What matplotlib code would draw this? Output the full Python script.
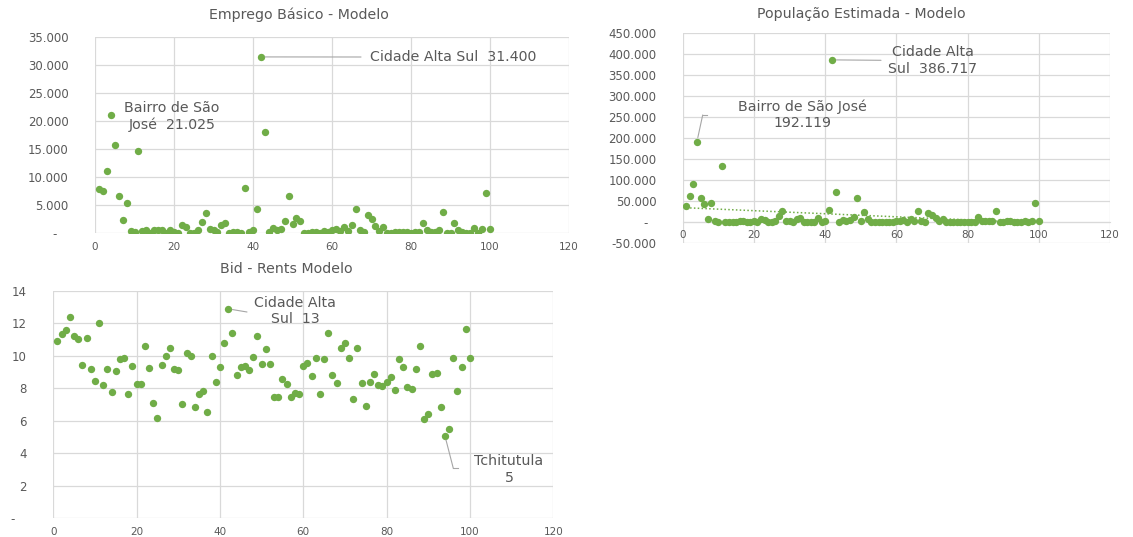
import numpy as np
import matplotlib
matplotlib.use("Agg")
import matplotlib.pyplot as plt
from matplotlib.ticker import MultipleLocator, FuncFormatter
from matplotlib.lines import Line2D

# --- data (zone index 1..100) ---
zonas = np.arange(1, 101)

emprego = [7900, 7600, 11100, 21025, 15700, 6700, 2400, 5400, 400, 200,
           14600, 400, 500, 100, 600, 500, 600, 100, 500, 200,
           100, 1400, 1100, 100, 100, 500, 2100, 3600, 800, 500,
           200, 1500, 1900, 100, 200, 300, 100, 8100, 200, 500,
           4400, 31400, 18100, 200, 1000, 500, 800, 2200, 6700, 1600,
           2700, 2200, 100, 100, 300, 200, 100, 400, 200, 600,
           700, 400, 1200, 400, 1400, 4300, 500, 300, 3300, 2500,
           1300, 400, 1200, 100, 100, 200, 200, 300, 300, 100,
           300, 200, 1900, 500, 200, 300, 600, 3800, 100, 100,
           1800, 600, 200, 100, 100, 900, 100, 700, 7100, 800]

populacao = [39000, 63000, 92000, 192119, 58000, 44000, 9000, 47000, 2000, 1000,
             133000, 1500, 1500, 1000, 1500, 2000, 2500, 1500, 1000, 2500,
             1500, 8000, 6000, 1000, 1000, 2000, 14000, 26000, 3000, 2000,
             1000, 8000, 10000, 1000, 1500, 1000, 1500, 10000, 1000, 3000,
             30000, 386717, 72000, 1000, 5000, 3000, 6000, 12000, 58000, 4000,
             25000, 8000, 1000, 1000, 1500, 1000, 1000, 1500, 1000, 3000,
             2000, 5000, 1500, 7000, 3000, 28000, 2000, 1000, 21000, 17000,
             10000, 3000, 8000, 1000, 1500, 1000, 1000, 1500, 1000, 1000,
             1500, 1000, 13000, 2000, 2500, 2000, 3000, 26000, 1000, 1500,
             2000, 3000, 1500, 1000, 1500, 4000, 1000, 2000, 46000, 4000]

bid_rents = [10.9, 11.33, 11.58, 12.4, 11.23, 11.03, 9.45, 11.1, 9.22, 8.44,
             12.05, 8.21, 9.18, 7.8, 9.06, 9.81, 9.9, 7.68, 9.38, 8.3,
             8.3, 10.6, 9.28, 7.1, 6.2, 9.42, 10.0, 10.47, 9.22, 9.14,
             7.04, 10.2, 9.98, 6.88, 7.68, 7.86, 6.53, 10.02, 8.42, 9.32,
             10.8, 12.9, 11.4, 8.83, 9.34, 9.36, 9.16, 9.94, 11.21, 9.53,
             10.41, 9.51, 7.5, 7.5, 8.6, 8.3, 7.47, 7.72, 7.66, 9.36,
             9.57, 8.75, 9.88, 7.66, 9.8, 11.44, 8.83, 8.34, 10.47, 10.82,
             9.86, 7.33, 10.47, 8.36, 6.92, 8.4, 8.87, 8.21, 8.13, 8.38,
             8.69, 7.93, 9.82, 9.3, 8.07, 7.97, 9.22, 10.64, 6.1, 6.45,
             8.91, 8.97, 6.88, 5.07, 5.48, 9.9, 7.84, 9.32, 11.68, 9.9]

W, H = 1133, 537
GREEN = "#70AD47"
TXT = "#595959"
GRID = "#d9d9d9"
LEAD = "#a6a6a6"

plt.rcParams["font.family"] = ["DejaVu Sans"]

fig = plt.figure(figsize=(W / 100, H / 100), dpi=100)


def box(l, t, r, b):
    return [l / W, 1 - b / H, (r - l) / W, (b - t) / H]


def fmt_factory(zero):
    def f(v, pos):
        if abs(v) < 1e-9:
            return zero
        return f"{v:,.0f}".replace(",", ".")
    return f


def style(ax, ystep, zero):
    ax.set_xlim(0, 120)
    ax.xaxis.set_major_locator(MultipleLocator(20))
    ax.yaxis.set_major_locator(MultipleLocator(ystep))
    ax.yaxis.set_major_formatter(FuncFormatter(fmt_factory(zero)))
    ax.grid(True, color=GRID, lw=0.9)
    ax.set_axisbelow(True)
    for s in ax.spines.values():
        s.set_visible(False)
    ax.tick_params(axis="y", length=0, pad=19, labelsize=8.5, labelcolor=TXT)
    ax.tick_params(axis="x", length=0, pad=6.5, labelsize=7.5, labelcolor=TXT)


def leader(ax, xd, yd, pts):
    # leader from data point through a list of image-pixel points
    x0, y0 = pts[0]
    ax.annotate("", xy=(xd, yd), xycoords="data",
                xytext=(x0, H - y0), textcoords="figure pixels",
                arrowprops=dict(arrowstyle="-", color=LEAD, lw=0.8,
                                shrinkA=0, shrinkB=3))
    for (xa, ya), (xb, yb) in zip(pts[:-1], pts[1:]):
        fig.add_artist(Line2D([xa / W, xb / W], [1 - ya / H, 1 - yb / H],
                              transform=fig.transFigure, color=LEAD, lw=0.8))


def label(text, x, y, ha="center"):
    fig.text(x / W, 1 - y / H, text, ha=ha, va="center", ma="center",
             fontsize=10.2, color=TXT, linespacing=1.2)


def title(text, x, y):
    fig.text(x / W, 1 - y / H, text, ha="center", va="center",
             fontsize=10.2, color=TXT)


def milhar(v):
    return f"{v:,.0f}".replace(",", ".")


# --- Emprego Básico ---
ax1 = fig.add_axes(box(95, 36.7, 569, 233.3))
ax1.scatter(zonas, emprego, s=28, color=GREEN, zorder=3, linewidths=0)
ax1.set_ylim(0, 35000)
style(ax1, 5000, "-   ")
title("Emprego Básico - Modelo", 299, 15)
label(f"Bairro de São\nJosé  {milhar(emprego[3])}", 172, 116.5)
label(f"Cidade Alta Sul  {milhar(emprego[41])}", 370, 57, ha="left")
leader(ax1, zonas[41], emprego[41], [(361, 57)])

# --- População Estimada ---
ax2 = fig.add_axes(box(682.7, 33.3, 1110, 243.3))
ax2.scatter(zonas, populacao, s=28, color=GREEN, zorder=3, linewidths=0)
coef = np.polyfit(zonas, populacao, 1)
ax2.plot(zonas, np.polyval(coef, zonas), color=GREEN, lw=1.1, ls=(0, (1, 1.5)),
         zorder=2)
ax2.set_ylim(-50000, 450000)
style(ax2, 50000, "-  ")
ax2.spines["bottom"].set_visible(True)
ax2.spines["bottom"].set_position(("data", 0))
ax2.spines["bottom"].set_color(GRID)
ax2.tick_params(axis="x", pad=5.5)
title("População Estimada - Modelo", 861, 14)
label(f"Cidade Alta\nSul  {milhar(populacao[41])}", 933, 60.5)
leader(ax2, zonas[41], populacao[41], [(881, 60.3)])
label(f"Bairro de São José\n{milhar(populacao[3])}", 802, 115)
leader(ax2, zonas[3], populacao[3], [(702.7, 115), (707.3, 115)])

# --- Bid - Rents ---
ax3 = fig.add_axes(box(53.3, 291, 553.3, 518.3))
ax3.scatter(zonas, bid_rents, s=28, color=GREEN, zorder=3, linewidths=0)
ax3.set_ylim(0, 14)
style(ax3, 2, "-   ")
title("Bid - Rents Modelo", 286, 269)
label(f"Cidade Alta\nSul  {bid_rents[41]:.0f}", 295, 311)
leader(ax3, zonas[41], bid_rents[41], [(247, 312)])
label(f"Tchitutula\n{bid_rents[93]:.0f}", 509, 469.5)
leader(ax3, zonas[93], bid_rents[93], [(453.3, 468.3), (458.3, 468.3)])

fig.savefig("out.png", dpi=100)
